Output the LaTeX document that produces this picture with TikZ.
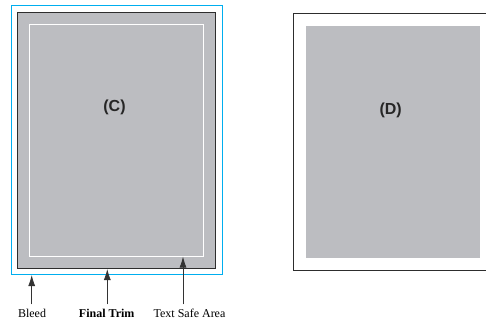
\documentclass[tikz,border=0pt]{standalone}
\usepackage{fontspec}
\setmainfont{Liberation Serif}
\newfontfamily\labelsans{Liberation Sans}
\usepackage{xcolor}
\usetikzlibrary{arrows.meta}

\definecolor{pagegrey}{RGB}{188,189,193}
\definecolor{bleedblue}{RGB}{0,174,239}
\definecolor{trimdark}{RGB}{45,45,45}

\begin{document}
\begin{tikzpicture}[x=1pt, y=-1pt]
            \tikzset{pointer/.style={-{Latex[length=11pt, width=7pt]}, line width=0.8pt, black!80},
                     caption/.style={font=\fontsize{12}{14}\selectfont, anchor=base, inner sep=0pt},
                     panel/.style={font=\labelsans\bfseries\fontsize{16}{18}\selectfont, text=black!85}}
            \useasboundingbox (0, 0) rectangle (486, 321);
            % (C): bleed, trim and safe area
            \begin{scope}
                \draw[bleedblue, line width=1pt] (11.5, 6) rectangle (222, 274);
                \fill[pagegrey] (17.5, 12.5) rectangle (215.5, 268.5);
                \draw[trimdark, line width=1pt] (17.5, 12.5) rectangle (215.5, 268.5);
                \draw[white, line width=0.9pt] (29.5, 24) rectangle (203.5, 256);
                \node[panel] (pagec) at (114.5, 107.5) {(C)};
            \end{scope}
            \coordinate (bleedtip) at (31.7, 275);
            \coordinate (trimtip) at (107.3, 269);
            \coordinate (safetip) at (183, 256.5);
            \node[caption] (bleed) at (32, 317) {Bleed};
            \node[caption] (trim) at (106.7, 317) {\textbf{Final Trim}};
            \node[caption] (safe) at (189.5, 317) {Text Safe Area};
            \draw[pointer] (bleed.north -| bleedtip) ++(0, -4) -- (bleedtip);
            \draw[pointer] (trim.north -| trimtip) ++(0, -4) -- (trimtip);
            \draw[pointer] (safe.north -| safetip) ++(0, -4) -- (safetip);
            % (D): page without bleed
            \begin{scope}
                \draw[trimdark, line width=1pt] (293.7, 14) rectangle (490, 270);
                \fill[pagegrey] (305.7, 26) rectangle (480, 257.7);
                \node[panel] (paged) at (390.7, 110) {(D)};
            \end{scope}
        \end{tikzpicture}
\end{document}
